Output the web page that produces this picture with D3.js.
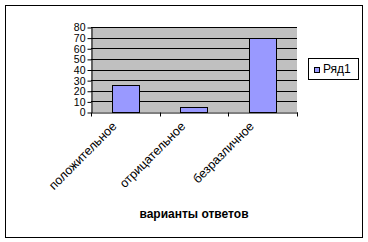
<!DOCTYPE html>
<html>
<head>
<meta charset="utf-8">
<script src="https://cdn.jsdelivr.net/npm/d3@7"></script>
<style>
  body { margin: 0; background: #fff; }
  text { font-family: "Liberation Sans", Arial, sans-serif; }
</style>
</head>
<body>
<div id="chart"></div>
<script>
// data
var categories = ["положительное", "отрицательное", "безразличное"];
var values = [25, 5, 70];
var yTicks = [0, 10, 20, 30, 40, 50, 60, 70, 80];
var seriesName = "Ряд1";

var W = 368, H = 242;
var plot = {left: 91, right: 297, top: 27, bottom: 112};

var svg = d3.select("#chart")
  .append("svg")
    .attr("width", W)
    .attr("height", H);

// outer frame
svg.append("rect")
  .attr("x", 5.5).attr("y", 5.5)
  .attr("width", 357).attr("height", 232)
  .attr("fill", "#fff")
  .attr("stroke", "#000");

var x = d3.scaleBand()
  .domain(categories)
  .range([plot.left, plot.right])
  .padding(0);

var y = d3.scaleLinear()
  .domain([0, 80])
  .range([plot.bottom, plot.top]);

// plot background
svg.append("rect")
  .attr("x", plot.left).attr("y", plot.top)
  .attr("width", plot.right - plot.left)
  .attr("height", plot.bottom - plot.top)
  .attr("fill", "#c0c0c0");

// gridlines
svg.append("g")
  .selectAll("line")
  .data(yTicks.slice(1))
  .enter()
  .append("line")
    .attr("x1", plot.left).attr("x2", plot.right)
    .attr("y1", function(d) { return Math.round(y(d)) + 0.5; })
    .attr("y2", function(d) { return Math.round(y(d)) + 0.5; })
    .attr("stroke", "#000");

// bars
var barW = x.bandwidth() * 0.4;
svg.append("g")
  .selectAll("rect")
  .data(values)
  .enter()
  .append("rect")
    .attr("x", function(d, i) { return Math.round(x(categories[i]) + (x.bandwidth() - barW) / 2) + 0.5; })
    .attr("y", function(d) { return Math.round(y(d)) + 0.5; })
    .attr("width", Math.round(barW))
    .attr("height", function(d) { return Math.round(y(0)) - Math.round(y(d)); })
    .attr("fill", "#9999ff")
    .attr("stroke", "#000");

// y axis
var yAxis = d3.axisLeft(y).tickValues(yTicks).tickSize(4).tickSizeOuter(0);
var gy = svg.append("g")
  .attr("transform", "translate(" + (plot.left + 0.5) + ",0.5)")
  .call(yAxis);
gy.selectAll("text")
  .attr("font-size", "10.5px")
  .attr("fill", "#000")
  .attr("x", -6);
gy.selectAll("line, path").attr("stroke", "#000");

// x axis
var xAxis = d3.axisBottom(x).tickSize(4).tickSizeOuter(0).tickFormat("");
var gx = svg.append("g")
  .attr("transform", "translate(0.5," + (plot.bottom + 0.5) + ")")
  .call(xAxis);
gx.selectAll(".tick line").remove();
gx.selectAll("path").attr("stroke", "#000");
gx.selectAll(".sep")
  .data(categories.concat([null]))
  .enter()
  .append("line")
    .attr("x1", function(d, i) { return Math.round(plot.left + i * x.step()); })
    .attr("x2", function(d, i) { return Math.round(plot.left + i * x.step()); })
    .attr("y1", 0).attr("y2", 4)
    .attr("stroke", "#000");

// rotated category labels
svg.append("g")
  .selectAll("text")
  .data(categories)
  .enter()
  .append("text")
    .attr("transform", function(d) {
      return "translate(" + (x(d) + x.bandwidth() / 2 - 11) + "," + 124 + ") rotate(-45)";
    })
    .attr("text-anchor", "end")
    .attr("dy", "0.35em")
    .attr("font-size", "12.5px")
    .attr("fill", "#000")
    .text(function(d) { return d; });

// axis titles
svg.append("text")
  .attr("x", 194).attr("y", 218)
  .attr("text-anchor", "middle")
  .attr("font-size", "12px")
  .attr("font-weight", "bold")
  .text("варианты ответов");

svg.append("clipPath")
  .attr("id", "ytclip")
  .append("rect")
    .attr("x", 0).attr("y", 10).attr("width", 60).attr("height", 200);

svg.append("text")
  .attr("clip-path", "url(#ytclip)")
  .attr("transform", "translate(33,123) rotate(-90)")
  .attr("text-anchor", "start")
  .attr("font-size", "12px")
  .attr("font-weight", "bold")
  .text("число опрошенных");

// legend
var lg = svg.append("g").attr("transform", "translate(308,58)");
lg.append("rect")
  .attr("x", 0.5).attr("y", 0.5)
  .attr("width", 50).attr("height", 21)
  .attr("fill", "#fff")
  .attr("stroke", "#000");
lg.append("rect")
  .attr("x", 6.5).attr("y", 9.5)
  .attr("width", 5).attr("height", 5)
  .attr("fill", "#9999ff")
  .attr("stroke", "#000");
lg.append("text")
  .attr("x", 15).attr("y", 15)
  .attr("font-size", "12px")
  .text(seriesName);
</script>
</body>
</html>
